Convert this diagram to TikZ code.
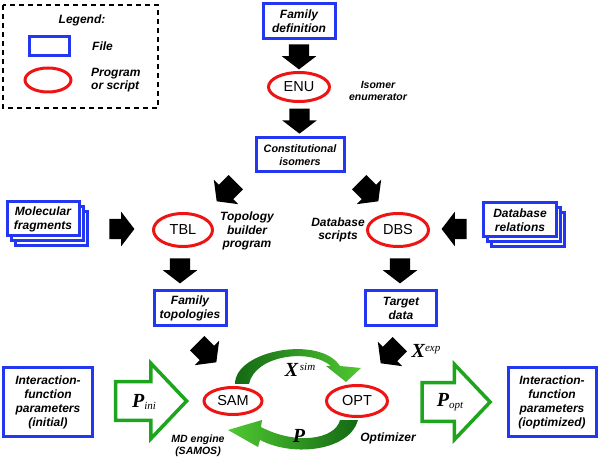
\documentclass[tikz,border=0pt]{standalone}
\usepackage{fontspec}
\setmainfont{Liberation Sans}
\newfontfamily\tms{Liberation Serif}
\usetikzlibrary{shapes.geometric,shapes.arrows,calc}
\definecolor{fblue}{RGB}{35,55,240}
\definecolor{pred}{RGB}{238,20,20}
\definecolor{hgreen}{RGB}{30,165,30}
\definecolor{dkgreen}{RGB}{20,105,20}
\definecolor{ltgreen}{RGB}{80,200,50}
\tikzset{
  filebox/.style={draw=fblue, line width=3pt, fill=white, align=center, inner sep=0pt,
    font=\bfseries\itshape\fontsize{12}{14}\selectfont},
  prog/.style={ellipse, draw=pred, line width=3pt, fill=white, inner sep=0pt,
    font=\fontsize{14.5}{16}\selectfont},
  note/.style={align=center, font=\bfseries\itshape\fontsize{12}{13.5}\selectfont, inner sep=0pt},
  blk/.style={single arrow, fill=black, draw=none, inner xsep=0pt, inner ysep=10pt, minimum width=34pt,
    minimum height=25pt, single arrow head extend=7pt, single arrow tip angle=105},
  hollow/.style={single arrow, draw=hgreen, line width=3.5pt, fill=white, inner xsep=0pt, inner ysep=17.5pt,
    minimum width=72pt, minimum height=71pt, single arrow head extend=18.5pt, single arrow tip angle=93},
  mlab/.style={inner sep=0pt, font=\tms\bfseries\itshape\fontsize{20}{20}\selectfont},
}
\newcommand{\smallit}[1]{{\tms\itshape\mdseries\fontsize{11}{11}\selectfont #1}}
\begin{document}
\begin{tikzpicture}[x=1pt,y=-1pt]
\useasboundingbox (0,0) rectangle (600,462);
% legend
\draw[line width=1.5pt, dash pattern=on 5pt off 4pt] (3,5) rectangle (158,108);
\node[note] (legtitle) at (82,20) {Legend:};
\node[filebox, minimum width=40pt, minimum height=19pt] (legfile) at (49,46) {};
\node[note, anchor=west] (legfiletxt) at (92,46) {File};
\node[prog, minimum width=46pt, minimum height=24pt] (legprog) at (48,80) {};
\node[note, anchor=west, align=left] (legprogtxt) at (91,80) {Program\\or script};

% top chain
\node[filebox, minimum width=72pt, minimum height=35pt] (fam) at (299,21) {Family\\definition};
\node[prog, minimum width=61pt, minimum height=29pt] (enu) at (299,87) {ENU};
\node[note, font=\bfseries\itshape\fontsize{10.5}{12.5}\selectfont] (enutxt) at (378,91) {Isomer\\enumerator};
\node[filebox, minimum width=88pt, minimum height=34pt, font=\bfseries\itshape\fontsize{10.8}{13.5}\selectfont] (iso) at (300,155) {Constitutional\\isomers};
\node[blk, rotate=-90] (a1) at ($(fam.south)!0.5!(enu.north)+(0,-2.5)$) {};
\node[blk, rotate=-90] (a2) at ($(enu.south)!0.5!(iso.north)+(0,-2.5)$) {};

% middle
\node[prog, minimum width=59pt, minimum height=33pt] (tbl) at (183,230) {TBL};
\node[prog, minimum width=61pt, minimum height=33pt] (dbs) at (398,230) {DBS};
\node[note] (tbltxt) at (247,231) {Topology\\builder\\program};
\node[note] (dbstxt) at (338,230) {Database\\scripts};
\node[blk, rotate=-135, minimum height=27pt] (a3) at (229,189) {};
\node[blk, rotate=-45, minimum height=27pt] (a4) at (366,189) {};

\node[filebox, minimum width=72pt, minimum height=34pt] (mf3) at (51,229) {};
\node[filebox, minimum width=72pt, minimum height=34pt] (mf2) at (47,224) {};
\node[filebox, minimum width=72pt, minimum height=34pt] (mf) at (43,219) {Molecular\\fragments};
\node[filebox, minimum width=73pt, minimum height=34pt] (dr3) at (528,230) {};
\node[filebox, minimum width=73pt, minimum height=34pt] (dr2) at (524,225) {};
\node[filebox, minimum width=73pt, minimum height=34pt] (dr) at (520,220) {Database\\relations};
\node[blk] (a5) at (118,229) {};
\node[blk, rotate=180] (a6) at (458,229) {};

\node[filebox, minimum width=72pt, minimum height=35pt] (famtop) at (190,308) {Family\\topologies};
\node[filebox, minimum width=71pt, minimum height=35pt] (target) at (401,308) {Target\\data};
\node[blk, rotate=-90] (a7) at (180,267) {};
\node[blk, rotate=-90] (a8) at (400,267) {};

% bottom
\node[filebox, minimum width=89pt, minimum height=68pt] (pinibox) at (48,402) {Interaction-\\function\\parameters\\(initial)};
\node[filebox, minimum width=88pt, minimum height=68pt] (poptbox) at (552,402) {Interaction-\\function\\parameters\\(ioptimized)};
\node[hollow] (g1) at (142,401) {};
\node[hollow, minimum height=68pt] (g2) at (447,402) {};
\node[mlab] (pini) at (144,402) {P\smallit{\raisebox{-0.45ex}{ini}}};
\node[mlab] (popt) at (450,402) {P\smallit{\raisebox{-0.45ex}{opt}}};

\node[prog, minimum width=58pt, minimum height=27pt] (sam) at (233,401) {SAM};
\node[prog, minimum width=61pt, minimum height=31pt] (opt) at (357,401) {OPT};
\node[note, font=\bfseries\itshape\fontsize{10.5}{12.5}\selectfont] (samtxt) at (198,446) {MD engine\\(SAMOS)};
\node[note] (opttxt) at (388,438) {Optimizer};
\node[blk, rotate=-45, minimum height=27pt] (a9) at (204,350) {};
\node[blk, rotate=-135, minimum height=27pt] (a10) at (393,351) {};
\node[mlab] (xexp) at (426,351) {X\smallit{\raisebox{1.1ex}{exp}}};

% green loop
\shade[left color=dkgreen, right color=ltgreen]
  (235,384) .. controls (235,350) and (320,335) .. (340,366) -- (361,368) -- (346,382)
  -- (326,366) -- (331,366) .. controls (310,348) and (255,355) .. (249,384) -- cycle;
\shade[left color=ltgreen, right color=dkgreen]
  (261,427) -- (262,420) -- (228,430) -- (258,447) -- (260,440)
  .. controls (295,458) and (350,450) .. (358,420) -- (340,420)
  .. controls (335,440) and (295,445) .. (261,427) -- cycle;
\node[mlab] (xsim) at (300,370) {X\smallit{\raisebox{1.1ex}{\,sim}}};
\node[mlab] (pp) at (299,436) {P};
\end{tikzpicture}
\end{document}
